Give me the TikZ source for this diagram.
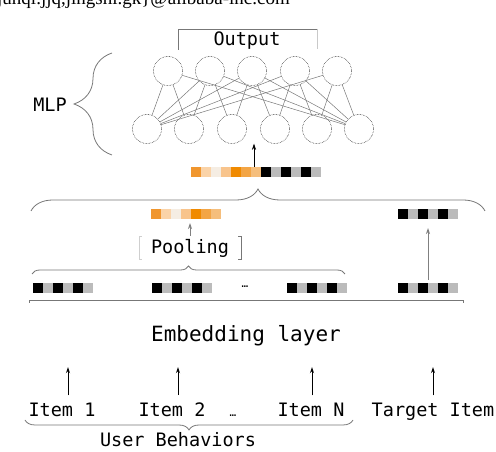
\documentclass[tikz,border=0pt]{standalone}
\usepackage{fontspec}
\setmonofont{DejaVu Sans Mono}
\newfontfamily\paperfont{Liberation Serif}
\usetikzlibrary{decorations.pathreplacing,arrows.meta}

\definecolor{EmbGray}{HTML}{BBBBBB}
\definecolor{LineGray}{HTML}{777777}
\definecolor{OrA}{HTML}{F0962E}
\definecolor{OrB}{HTML}{FAD3A8}
\definecolor{OrC}{HTML}{F5EDE3}
\definecolor{OrD}{HTML}{F8C48C}
\definecolor{OrE}{HTML}{F08A00}
\definecolor{OrF}{HTML}{F3A545}
\definecolor{OrG}{HTML}{F5BE7C}

\tikzset{
  neuron/.style={circle, draw, densely dotted, line width=0.5pt, minimum size=29pt, inner sep=0pt},
  link/.style={color=LineGray, line width=0.5pt},
  txt/.style={font=\fontsize{18.5}{20}\selectfont\ttfamily, inner sep=2pt, anchor=base},
  vecbox/.style={minimum height=10pt, inner sep=0pt, outer sep=0pt},
  bracegray/.style={decorate, decoration={brace, amplitude=#1}, color=LineGray, line width=0.8pt},
  uparrow/.style={-{Stealth[length=6pt,width=4pt]}, line width=0.9pt},
  greyarrow/.style={-{Stealth[length=6pt,width=4pt]}, color=gray, line width=1pt},
}

\begin{document}
\begin{tikzpicture}[x=1pt, y=1pt]
 \useasboundingbox (0,0) rectangle (496,452);
 \clip (0,0) rectangle (496,452);

 %%%%%%%%%% Paper line cut at the top %%%%%%%%%%
 \node[anchor=base west, inner sep=0pt, font=\paperfont\fontsize{19}{20}\selectfont] (mail) at (-3,447.5) {junqi.jjq,jingshi.gk\}@alibaba-inc.com};

 %%%%%%%%%% MLP neurons %%%%%%%%%%
 \foreach \i/\x in {1/168,2/210,3/252,4/295,5/337}
   \node[neuron] (t\i) at (\x,381) {};
 \foreach \i/\x in {1/147,2/189,3/232,4/275,5/317,6/359}
   \node[neuron] (b\i) at (\x,323) {};

 % links
 \foreach \i in {1,...,5} {
   \pgfmathtruncatemacro{\j}{\i+1}
   \draw[link] (t\i) -- (b\i);
   \draw[link] (t\i) -- (b\j);
 }
 \foreach \i in {2,...,5} \draw[link] (t\i) -- (b1);
 \foreach \i in {1,...,4} \draw[link] (t\i) -- (b6);

 %%%%%%%%%% Output and MLP labels %%%%%%%%%%
 \node[txt] (out) at (247,406) {Output};
 \draw[color=LineGray, line width=0.6pt] (178,402) -- (178,423) -- (317,423) ;
 \draw[color=LineGray!40, line width=0.6pt] (317,423) -- (317,403) ;

 \draw[bracegray=38] (112,297) -- (112,399) ;
 \node[txt] (mlp) at (50,340) {MLP};

 %%%%%%%%%% Concatenated vector %%%%%%%%%%
 \node[vecbox, minimum width=130pt] (concat) at (256,280) {};
 \foreach \k/\c in {0/OrA,1/OrB,2/OrC,3/OrD,4/OrE,5/OrF,6/OrG,7/black,8/EmbGray,9/black,10/EmbGray,11/black,12/EmbGray}
   \fill[\c] ([xshift=\k*10pt]concat.south west) rectangle ++(10,10);
 \draw[uparrow, line width=0.6pt] ([xshift=-2pt]concat.north) -- ([xshift=-2pt]concat.north |- b3.south) ;

 \draw[bracegray=22] (31,241) -- (485,241) ;

 %%%%%%%%%% Pooling %%%%%%%%%%
 \node[vecbox, minimum width=70pt] (pool) at (186,238) {};
 \foreach \k/\c in {0/OrA,1/OrB,2/OrC,3/OrD,4/OrE,5/OrF,6/OrG}
   \fill[\c] ([xshift=\k*10pt]pool.south west) rectangle ++(10,10);

 \node[minimum width=102pt, minimum height=22pt, inner sep=0pt] (pooling) at (190,204) {};
 \node[txt] (pooltxt) at (190,198) {Pooling};
 \draw[color=LineGray!35, line width=0.6pt] ([xshift=3pt]pooling.north west) -- (pooling.north west) -- (pooling.south west) -- ([xshift=3pt]pooling.south west) ;
 \draw[color=LineGray, line width=0.6pt] ([xshift=-3pt]pooling.north east) -- (pooling.north east) -- (pooling.south east) -- ([xshift=-3pt]pooling.south east) ;
 \draw[greyarrow, shorten >=4pt, shorten <=1pt] (pooling.north) -- (pooling.north |- pool.south) ;

 \draw[bracegray=8] (32,178) -- (345,178) ;

 %%%%%%%%%% Embedding vectors %%%%%%%%%%
 \node[vecbox, minimum width=60pt] (beh1) at (62.5,164) {};
 \node[vecbox, minimum width=60pt] (beh2) at (182,164) {};
 \node[vecbox, minimum width=60pt] (behN) at (316.5,164) {};
 \node[vecbox, minimum width=60pt] (tgt) at (428,164) {};
 \node[vecbox, minimum width=60pt] (tgtemb) at (428,238) {};
 \foreach \v in {beh1,beh2,behN,tgt,tgtemb}
   \foreach \k/\c in {0/black,1/EmbGray,2/black,3/EmbGray,4/black,5/EmbGray}
     \fill[\c] ([xshift=\k*10pt]\v.south west) rectangle ++(10,10);
 \node[anchor=base, inner sep=0pt, font=\fontsize{11}{12}\selectfont\ttfamily] (vdots) at (245,164) {…};

 \draw[greyarrow, shorten >=9pt, shorten <=3pt] (tgt.north) -- (tgtemb.south) ;

 %%%%%%%%%% Embedding layer %%%%%%%%%%
 \node[minimum width=433pt, minimum height=62pt, inner sep=0pt] (emb) at (246.5,120) {};
 \node[txt, font=\fontsize{21}{24}\selectfont\ttfamily] (embtxt) at (246,110) {Embedding layer};
 \draw[color=LineGray, line width=0.8pt] ([yshift=-2pt]emb.north west) -- (emb.north west) -- (emb.north east) -- ([yshift=-2pt]emb.north east) ;

 %%%%%%%%%% Inputs %%%%%%%%%%
 \node[txt] (item1) at (62,35) {Item 1};
 \node[txt] (item2) at (172,35) {Item 2};
 \node[txt] (itemN) at (311,35) {Item N};
 \node[txt] (target) at (433,35) {Target Item};
 \node[anchor=base, inner sep=0pt, font=\fontsize{11}{12}\selectfont\ttfamily] (idots) at (233,35) {…};

 \draw[uparrow, shorten <=6pt, shorten >=4pt] ([xshift=6pt]item1.north) -- ([xshift=6pt]item1.north |- emb.south) ;
 \draw[uparrow, shorten <=6pt, shorten >=4pt] ([xshift=6pt]item2.north) -- ([xshift=6pt]item2.north |- emb.south) ;
 \draw[uparrow, shorten <=6pt, shorten >=4pt] ([xshift=1pt]itemN.north) -- ([xshift=1pt]itemN.north |- emb.south) ;
 \draw[uparrow, shorten <=6pt, shorten >=4pt] (target.north) -- (target.north |- emb.south) ;

 \draw[bracegray=10] (353,32) -- (25,32) ;
 \node[txt] (users) at (178,5) {User Behaviors};

\end{tikzpicture}
\end{document}
